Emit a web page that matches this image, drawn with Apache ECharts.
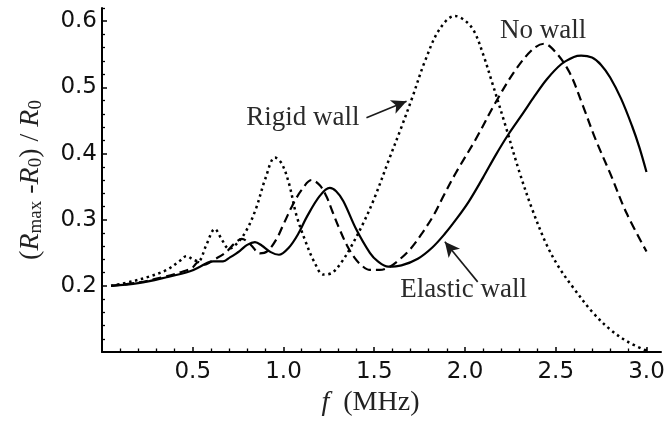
<!DOCTYPE html>
<html>
<head>
<meta charset="utf-8">
<script src="https://cdn.jsdelivr.net/npm/echarts@6/dist/echarts.min.js"></script>
<style>
html,body{margin:0;padding:0;background:#fff;}
#chart{width:670px;height:427px;}
</style>
</head>
<body>
<div id="chart"></div>
<script>
// ---- data (f in MHz, (Rmax-R0)/R0) ----
var rigidWall = [
  [0.05,0.200],[0.17,0.207],[0.26,0.214],[0.356,0.224],[0.43,0.238],[0.466,0.245],[0.50,0.240],[0.53,0.237],
  [0.575,0.262],[0.622,0.286],[0.66,0.270],[0.70,0.256],[0.75,0.266],[0.80,0.286],[0.85,0.318],[0.90,0.362],
  [0.953,0.394],[0.99,0.385],[1.03,0.355],[1.07,0.308],[1.12,0.268],[1.17,0.236],[1.22,0.217],[1.27,0.220],
  [1.32,0.236],[1.37,0.258],[1.44,0.295],[1.50,0.332],[1.58,0.390],[1.65,0.440],[1.71,0.485],[1.78,0.540],
  [1.86,0.588],[1.944,0.608],[2.00,0.601],[2.05,0.585],[2.10,0.550],[2.15,0.507],[2.22,0.445],[2.30,0.372],
  [2.37,0.316],[2.45,0.262],[2.52,0.227],[2.60,0.196],[2.70,0.161],[2.80,0.134],[2.90,0.115],[3.0,0.102]
];
var noWall = [
  [0.05,0.200],[0.2,0.205],[0.35,0.214],[0.45,0.222],[0.50,0.228],[0.53,0.236],[0.565,0.232],[0.62,0.240],
  [0.68,0.250],[0.73,0.264],[0.77,0.271],[0.82,0.262],[0.87,0.249],[0.91,0.252],[0.96,0.270],[1.00,0.293],
  [1.05,0.322],[1.10,0.345],[1.155,0.360],[1.20,0.352],[1.237,0.335],[1.27,0.312],[1.31,0.285],[1.35,0.261],
  [1.39,0.243],[1.43,0.231],[1.476,0.224],[1.53,0.224],[1.586,0.229],[1.64,0.240],[1.70,0.256],[1.76,0.278],
  [1.83,0.308],[1.88,0.335],[1.95,0.371],[2.06,0.422],[2.17,0.478],[2.28,0.527],[2.375,0.558],[2.435,0.566],
  [2.50,0.553],[2.577,0.522],[2.65,0.472],[2.72,0.421],[2.80,0.370],[2.89,0.310],[3.0,0.252]
];
var elasticWall = [
  [0.05,0.200],[0.2,0.204],[0.356,0.213],[0.485,0.222],[0.54,0.229],[0.58,0.235],[0.613,0.237],[0.667,0.237],
  [0.705,0.243],[0.76,0.253],[0.80,0.262],[0.843,0.266],[0.88,0.261],[0.93,0.251],[0.975,0.247],[1.03,0.258],
  [1.08,0.278],[1.13,0.305],[1.20,0.336],[1.255,0.348],[1.29,0.343],[1.33,0.328],[1.40,0.286],[1.476,0.250],
  [1.52,0.237],[1.577,0.229],[1.65,0.231],[1.74,0.241],[1.82,0.258],[1.89,0.279],[1.95,0.300],[2.02,0.327],
  [2.10,0.364],[2.17,0.398],[2.237,0.428],[2.32,0.461],[2.384,0.487],[2.45,0.512],[2.53,0.535],[2.60,0.546],
  [2.64,0.548],[2.70,0.545],[2.75,0.534],[2.80,0.515],[2.86,0.483],[2.92,0.442],[2.96,0.410],[3.0,0.372]
];
var xTickLabels = [0.5, 1.0, 1.5, 2.0, 2.5, 3.0];
var yTickLabels = [0.2, 0.3, 0.4, 0.5, 0.6];
var xMinorTicks = [0.1,0.2,0.3,0.4,0.6,0.7,0.8,0.9,1.1,1.2,1.3,1.4,1.6,1.7,1.8,1.9,2.1,2.2,2.3,2.4,2.6,2.7,2.8,2.9,3.0];
var yMinorTicks = [0.12,0.14,0.16,0.18,0.22,0.24,0.26,0.28,0.32,0.34,0.36,0.38,0.42,0.44,0.46,0.48,0.52,0.54,0.56,0.58,0.62];
var annotations = [
  {name: 'Rigid wall', coord: [1.107, 0.4545]},
  {name: 'No wall', coord: [2.431, 0.586]},
  {name: 'Elastic wall', coord: [1.993, 0.194]}
];
var arrows = [
  [[1.457, 0.454], [1.678, 0.479]],
  [[2.07, 0.206], [1.889, 0.2667]]
];

var XMIN = 0, XMAX = 3.08, YMIN = 0.1, YMAX = 0.62;
var serif = 'Liberation Serif';
var sans = 'DejaVu Sans';

var chart = echarts.init(document.getElementById('chart'), null, {renderer: 'canvas'});

function baseLine(data, type, dash) {
  return {
    type: 'line', data: data, showSymbol: false, smooth: 0.35,
    xAxisIndex: 0, yAxisIndex: 0,
    lineStyle: {color: '#000', width: 2.2, type: dash || type},
    silent: true
  };
}

var sRigid = baseLine(rigidWall, 'dotted', [2.5, 3.6]);
sRigid.lineStyle.width = 2.5;
sRigid.lineStyle.cap = 'butt';
var sNo = baseLine(noWall, 'dashed', [9, 5]);
var sEl = baseLine(elasticWall, 'solid');
sEl.markPoint = {
  symbol: 'circle', symbolSize: 0, silent: true,
  label: {show: true, position: 'inside', formatter: function (p) { return p.name; },
          fontFamily: serif, fontSize: 27, color: '#2a2a2a'},
  data: annotations.map(function (a) { return {name: a.name, coord: a.coord}; })
};
sEl.markLine = {
  silent: true, symbol: ['none', 'arrow'], symbolSize: [11, 15],
  label: {show: false},
  lineStyle: {color: '#1a1a1a', width: 1.6, type: 'solid'},
  emphasis: {disabled: true},
  data: arrows.map(function (a) { return [{coord: a[0]}, {coord: a[1]}]; })
};

var option = {
  animation: false,
  backgroundColor: '#fff',
  grid: {left: 102, right: 9, top: 8, bottom: 75, containLabel: false},
  xAxis: [
    {
      type: 'value', min: XMIN, max: XMAX, position: 'bottom',
      name: '{i|f}  (MHz)', nameLocation: 'middle', nameGap: 34,
      nameTextStyle: {fontFamily: serif, fontSize: 28, color: '#222', padding: [0, 22, 0, 0],
        rich: {i: {fontFamily: serif, fontStyle: 'italic', fontSize: 28, color: '#222'}}},
      axisLine: {show: true, onZero: false, lineStyle: {color: '#000', width: 2}},
      axisTick: {show: true, inside: true, length: 5, lineStyle: {color: '#000', width: 1.5}, customValues: xTickLabels},
      axisLabel: {show: true, margin: 9, fontFamily: sans, fontSize: 23, color: '#111',
        customValues: xTickLabels, formatter: function (v) { return v.toFixed(1); }},
      splitLine: {show: false}
    },
    {
      type: 'value', min: XMIN, max: XMAX, position: 'bottom',
      axisLine: {show: false, onZero: false},
      axisTick: {show: true, inside: true, length: 3.5, lineStyle: {color: '#000', width: 1.3}, customValues: xMinorTicks},
      axisLabel: {show: false},
      splitLine: {show: false}
    }
  ],
  yAxis: [
    {
      type: 'value', min: YMIN, max: YMAX, position: 'left',
      name: '({i|R}{sub|max} -{i|R}{sub|0}) / {i|R}{sub|0}',
      nameLocation: 'middle', nameGap: 56, nameRotate: 90,
      nameTextStyle: {fontFamily: serif, fontSize: 28, color: '#222',
        rich: {
          i: {fontFamily: serif, fontStyle: 'italic', fontSize: 28, color: '#222'},
          sub: {fontFamily: serif, fontSize: 19, color: '#222', padding: [12, 0, 0, 0]}
        }},
      axisLine: {show: true, onZero: false, lineStyle: {color: '#000', width: 2}},
      axisTick: {show: true, inside: true, length: 5, lineStyle: {color: '#000', width: 1.5}, customValues: yTickLabels},
      axisLabel: {show: true, margin: 5, fontFamily: sans, fontSize: 23, color: '#111',
        customValues: yTickLabels, formatter: function (v) { return v.toFixed(1); }},
      splitLine: {show: false}
    },
    {
      type: 'value', min: YMIN, max: YMAX, position: 'left',
      axisLine: {show: false, onZero: false},
      axisTick: {show: true, inside: true, length: 3, lineStyle: {color: '#000', width: 1.3}, customValues: yMinorTicks},
      axisLabel: {show: false},
      splitLine: {show: false}
    }
  ],
  series: [sRigid, sNo, sEl]
};
chart.setOption(option);
</script>
</body>
</html>
